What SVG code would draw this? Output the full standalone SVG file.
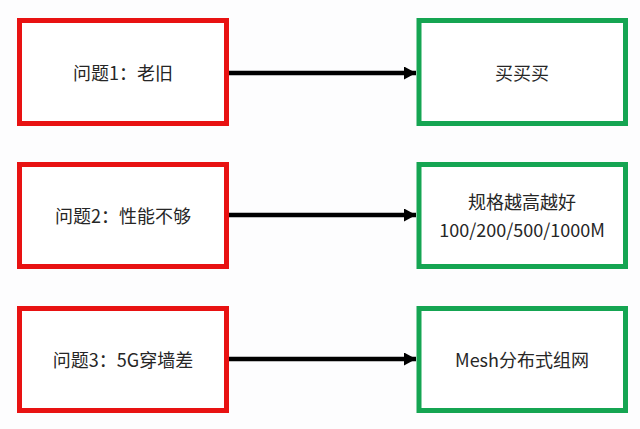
<svg xmlns="http://www.w3.org/2000/svg" width="640" height="429" viewBox="0 0 640 429">
<style>
.bad{fill:#ffffff;stroke:#e81212;stroke-width:5}
.good{fill:#ffffff;stroke:#15a552;stroke-width:5}
.t{font-family:"Noto Sans CJK SC","Noto Sans",sans-serif;font-size:18px;fill:#262626;text-anchor:middle;dominant-baseline:central}
.conn{stroke:#000;stroke-width:4.5;fill:none}
</style>
<defs>
<marker id="ah" markerUnits="userSpaceOnUse" markerWidth="13" markerHeight="13" refX="12" refY="6.5" orient="auto">
<polygon points="0,0 12,6.5 0,13" fill="#000"/>
</marker>
</defs>
<rect width="640" height="429" fill="#fdfdfe"/>
<g id="connectors">
<line class="conn" x1="229" y1="73" x2="416" y2="73" marker-end="url(#ah)"/>
<line class="conn" x1="229" y1="215" x2="416" y2="215" marker-end="url(#ah)"/>
<line class="conn" x1="229" y1="359" x2="416" y2="359" marker-end="url(#ah)"/>
</g>
<g id="p1"><rect class="bad" x="19.5" y="20.5" width="207" height="103"/><text class="t" x="123" y="72">问题1：老旧</text></g>
<g id="s1"><rect class="good" x="419" y="20.5" width="206.5" height="103"/><text class="t" x="522" y="72">买买买</text></g>
<g id="p2"><rect class="bad" x="19.5" y="164.5" width="207" height="102"/><text class="t" x="123" y="215">问题2：性能不够</text></g>
<g id="s2"><rect class="good" x="419" y="164.5" width="206.5" height="102"/><text class="t" x="522" y="201">规格越高越好</text><text class="t" x="522" y="229">100/200/500/1000M</text></g>
<g id="p3"><rect class="bad" x="19.5" y="308.5" width="207" height="102"/><text class="t" x="123" y="359">问题3：5G穿墙差</text></g>
<g id="s3"><rect class="good" x="419" y="308.5" width="206.5" height="102"/><text class="t" x="522" y="359">Mesh分布式组网</text></g>
</svg>
